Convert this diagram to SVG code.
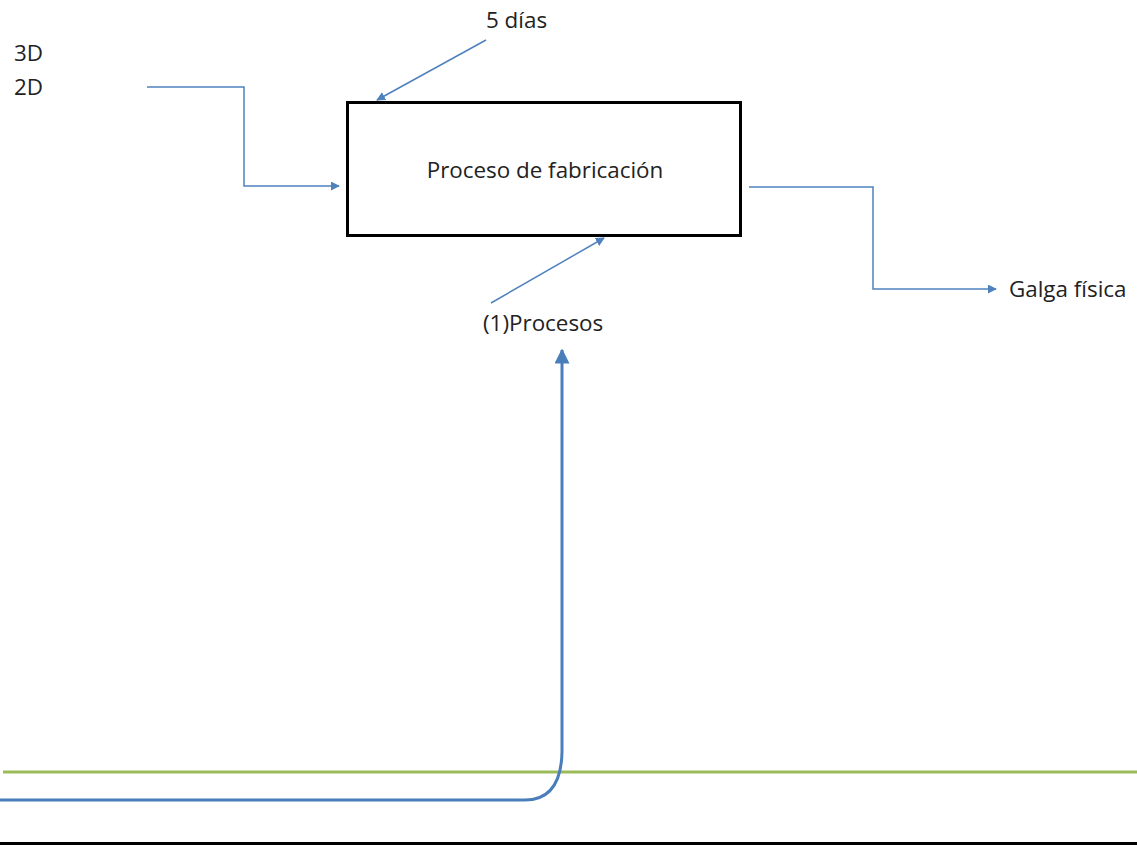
<svg xmlns="http://www.w3.org/2000/svg" width="1137" height="845" viewBox="0 0 1137 845">
<style>
.t{font-family:"Open Sans","Noto Sans","Liberation Sans",sans-serif;font-size:22.4px;fill:#222}
.c{fill:none;stroke:#4f81bd;stroke-width:1.5}
</style>
<defs>
<marker id="a" viewBox="0 0 10 10" refX="9" refY="5" markerWidth="9" markerHeight="9" markerUnits="userSpaceOnUse" orient="auto"><path d="M0,0L10,5L0,10z" fill="#4f81bd"/></marker>
<marker id="b" viewBox="0 0 10 10" refX="9" refY="5" markerWidth="5" markerHeight="5" orient="auto"><path d="M0,0L10,5L0,10z" fill="#4a7ebb"/></marker>
</defs>
<rect width="1137" height="845" fill="#fff"/>
<g id="box">
<rect x="347.5" y="102.5" width="393" height="133" fill="#fff" stroke="#000" stroke-width="3"/>
<text class="t" x="545" y="178" text-anchor="middle">Proceso de fabricación</text>
</g>
<g id="labels">
<text class="t" x="14" y="61">3D</text>
<text class="t" x="14" y="95">2D</text>
<text class="t" x="486" y="28">5 días</text>
<text class="t" x="483" y="331">(1)Procesos</text>
<text class="t" x="1009" y="297">Galga física</text>
</g>
<g id="connectors">
<path class="c" d="M147,87H244V186H339" marker-end="url(#a)"/>
<path class="c" d="M486,40L377,100" marker-end="url(#a)"/>
<path class="c" d="M491,303L604,238" marker-end="url(#a)"/>
<path class="c" d="M749,187H873V289H996" marker-end="url(#a)"/>
</g>
<g id="lines">
<line x1="3" y1="772" x2="1137" y2="772" stroke="#9bbb59" stroke-width="3"/>
<path d="M0,800H525Q561,800 562,752V350" fill="none" stroke="#4a7ebb" stroke-width="3" marker-end="url(#b)"/>
<line x1="0" y1="843.5" x2="1137" y2="843.5" stroke="#000" stroke-width="3"/>
</g>
</svg>
